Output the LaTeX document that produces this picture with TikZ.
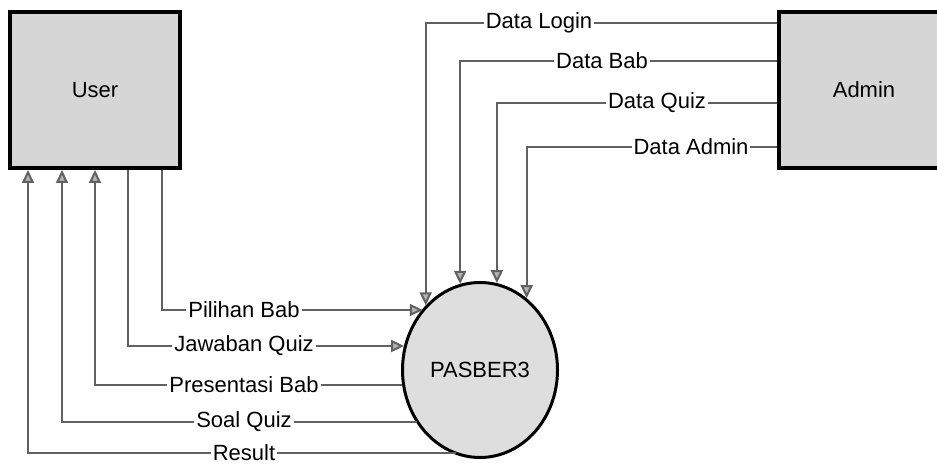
\documentclass[tikz,border=0pt]{standalone}
\usepackage{fontspec}
\setmainfont{Liberation Sans}
\usetikzlibrary{arrows.meta,shapes.geometric,calc}

\tikzset{
  entity/.style={draw, line width=2pt, fill=black!16, minimum width=85pt, minimum height=78pt},
  proses/.style={ellipse, draw, line width=1.5pt, fill=black!13, minimum width=77.5pt, minimum height=87.5pt, inner sep=0pt},
  flow/.style={draw=black!62, line width=1pt},
  tip/.style={-{Triangle[length=6.5pt, width=6pt, fill=black!30]}},
  lbl/.style={inner sep=0.8pt}
}

\begin{document}
\begin{tikzpicture}[x=0.5pt, y=-0.5pt, font=\fontsize{11}{13}\selectfont]

\useasboundingbox (0,0) rectangle (937,464);

\node[entity] (user) at (95,90) {User};
\node[entity] (admin) at (864,90) {Admin};
\node[proses] (pasber) at (480,370) {PASBER3};

% dari admin
\node[lbl] (login) at (539,23) {Data Login};
\node[lbl] (bab) at (602,61) {Data Bab};
\node[lbl] (quiz) at (657,103) {Data Quiz};
\node[lbl] (dadmin) at (691,147) {Data Admin};

\draw[flow] ($(admin.west)+(0,-67)$) -- (login.east);
\draw[flow,tip] (login.west) -| (pasber.130);
\draw[flow] ($(admin.west)+(0,-29)$) -- (bab.east);
\draw[flow,tip] (bab.west) -| (pasber.103);
\draw[flow] ($(admin.west)+(0,13)$) -- (quiz.east);
\draw[flow,tip] (quiz.west) -| (pasber.79);
\draw[flow] ($(admin.west)+(0,57)$) -- (dadmin.east);
\draw[flow,tip] (dadmin.west) -| (pasber.57);

% antara user dan proses
\node[lbl] (pilihan) at (244,310) {Pilihan Bab};
\node[lbl] (jawab) at (244,346) {Jawaban Quiz};
\node[lbl] (presentasi) at (244,385) {Presentasi Bab};
\node[lbl] (soal) at (244,422) {Soal Quiz};
\node[lbl] (result) at (244,453) {Result};

\draw[flow] ($(user.south)+(67,0)$) |- (pilihan.west);
\draw[flow,tip] (pilihan.east) -- (pasber.133 |- pilihan.east);
\draw[flow] ($(user.south)+(33,0)$) |- (jawab.west);
\draw[flow,tip] (jawab.east) -- (pasber.162 |- jawab.east);

\draw[flow] (pasber.191 |- presentasi.east) -- (presentasi.east);
\draw[flow,tip] (presentasi.west) -| (user.south);
\draw[flow] (pasber.220 |- soal.east) -- (soal.east);
\draw[flow,tip] (soal.west) -| ($(user.south)+(-33,0)$);
\draw[flow] (pasber.254 |- result.east) -- (result.east);
\draw[flow,tip] (result.west) -| ($(user.south)+(-67,0)$);

\end{tikzpicture}
\end{document}
